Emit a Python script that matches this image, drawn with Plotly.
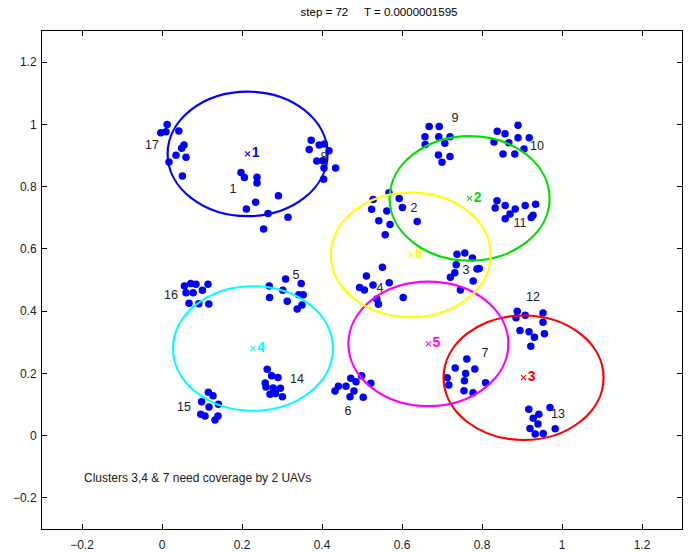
import plotly.graph_objects as go

# ---------- data (data units) ----------
pts_x = [
    # 17
    0.013, -0.003, 0.010, 0.042, 0.055, 0.049, 0.035, 0.060, 0.0175, 0.051,
    # 1
    0.1975, 0.206, 0.2375, 0.2375, 0.291, 0.234, 0.211, 0.265, 0.315, 0.254,
    # 8
    0.373, 0.368, 0.393, 0.406, 0.4175, 0.402, 0.387, 0.434, 0.405, 0.404,
    # 9
    0.668, 0.693, 0.6575, 0.692, 0.720, 0.658, 0.707, 0.691, 0.720, 0.700,
    # 10
    0.890, 0.838, 0.8575, 0.890, 0.918, 0.830, 0.867, 0.905, 0.8525, 0.882,
    # 11
    0.8375, 0.833, 0.858, 0.883, 0.908, 0.934, 0.870, 0.858, 0.9275, 0.923,
    # 2
    0.528, 0.5675, 0.593, 0.524, 0.562, 0.601, 0.542, 0.570, 0.638, 0.558,
    # 3
    0.7375, 0.757, 0.776, 0.7355, 0.7875, 0.793, 0.732, 0.721, 0.778, 0.746,
    # 4
    0.551, 0.511, 0.568, 0.5275, 0.494, 0.506, 0.603, 0.537, 0.541,
    # 5
    0.309, 0.348, 0.268, 0.302, 0.342, 0.353, 0.269, 0.313, 0.350, 0.338,
    # 16
    0.056, 0.072, 0.085, 0.115, 0.060, 0.078, 0.101, 0.0675, 0.092, 0.117,
    # 14
    0.263, 0.274, 0.290, 0.258, 0.260, 0.278, 0.296, 0.270, 0.284, 0.301,
    # 15
    0.116, 0.1275, 0.099, 0.141, 0.1175, 0.097, 0.1075, 0.140, 0.1325,
    # 6
    0.472, 0.499, 0.485, 0.522, 0.441, 0.460, 0.4325, 0.480, 0.470, 0.503,
    # 7
    0.762, 0.733, 0.782, 0.759, 0.713, 0.717, 0.756, 0.809, 0.755, 0.7775,
    # 12
    0.888, 0.885, 0.908, 0.9525, 0.9525, 0.895, 0.9175, 0.956, 0.931, 0.922,
    # 13
    0.917, 0.970, 0.942, 0.928, 0.940, 0.920, 0.983, 0.933, 0.953,
]
pts_y = [
    # 17
    1.000, 0.973, 0.976, 0.979, 0.934, 0.923, 0.901, 0.894, 0.879, 0.834,
    # 1
    0.845, 0.829, 0.830, 0.812, 0.771, 0.750, 0.728, 0.714, 0.702, 0.664,
    # 8
    0.949, 0.919, 0.934, 0.937, 0.915, 0.883, 0.882, 0.860, 0.860, 0.824,
    # 9
    0.993, 0.993, 0.960, 0.960, 0.960, 0.935, 0.939, 0.902, 0.897, 0.878,
    # 10
    0.997, 0.978, 0.970, 0.957, 0.957, 0.943, 0.941, 0.921, 0.905, 0.905,
    # 11
    0.755, 0.731, 0.739, 0.728, 0.739, 0.743, 0.712, 0.697, 0.708, 0.701,
    # 2
    0.759, 0.780, 0.762, 0.727, 0.722, 0.733, 0.690, 0.678, 0.688, 0.645,
    # 3
    0.583, 0.587, 0.571, 0.549, 0.535, 0.537, 0.523, 0.509, 0.497, 0.468,
    # 4
    0.541, 0.513, 0.491, 0.484, 0.476, 0.468, 0.444, 0.439, 0.422,
    # 5
    0.503, 0.489, 0.481, 0.467, 0.453, 0.453, 0.444, 0.432, 0.420, 0.407,
    # 16
    0.481, 0.489, 0.486, 0.486, 0.459, 0.459, 0.467, 0.425, 0.424, 0.423,
    # 14
    0.213, 0.192, 0.187, 0.169, 0.156, 0.153, 0.152, 0.133, 0.135, 0.125,
    # 15
    0.139, 0.128, 0.109, 0.101, 0.092, 0.069, 0.063, 0.063, 0.050,
    # 6
    0.184, 0.192, 0.173, 0.168, 0.159, 0.159, 0.143, 0.143, 0.125, 0.123,
    # 7
    0.246, 0.217, 0.214, 0.200, 0.186, 0.163, 0.176, 0.170, 0.144, 0.138,
    # 12
    0.400, 0.379, 0.387, 0.394, 0.364, 0.338, 0.334, 0.327, 0.316, 0.287,
    # 13
    0.085, 0.090, 0.069, 0.056, 0.037, 0.023, 0.022, 0.005, 0.007,
]

cluster_ids = [str(i) for i in range(1, 18)]
cluster_lx = [0.1775, 0.63, 0.76, 0.545, 0.335, 0.465, 0.8075, 0.405, 0.7325,
              0.9375, 0.895, 0.9275, 0.99, 0.3375, 0.055, 0.0225, -0.025]
cluster_ly = [0.789, 0.728, 0.529, 0.471, 0.513, 0.076, 0.263, 0.892, 1.017,
              0.927, 0.680, 0.442, 0.066, 0.179, 0.089, 0.448, 0.930]

uav_ids = ["1", "2", "3", "4", "5", "6"]
uav_x = [0.214, 0.769, 0.904, 0.2275, 0.666, 0.622]
uav_y = [0.905, 0.762, 0.186, 0.280, 0.295, 0.581]
uav_r = [0.2, 0.2, 0.2, 0.2, 0.2, 0.2]
uav_colors = ["#0000ff", "#00e000", "#ff0000", "#00ffff", "#ff00ff", "#ffff00"]

x_ticks = [-0.2, 0, 0.2, 0.4, 0.6, 0.8, 1, 1.2]
y_ticks = [-0.2, 0, 0.2, 0.4, 0.6, 0.8, 1, 1.2]
title_text = "step = 72\u00a0\u00a0\u00a0\u00a0 T = 0.0000001595"
note_text = "Clusters 3,4 & 7 need coverage by 2 UAVs"

FONT = "Liberation Sans, Arial, Helvetica, sans-serif"

fig = go.Figure()

shapes = []
for cx, cy, r, c in zip(uav_x, uav_y, uav_r, uav_colors):
    shapes.append(dict(type="circle", xref="x", yref="y",
                       x0=cx - r, x1=cx + r, y0=cy - r, y1=cy + r,
                       line=dict(color=c, width=2.2), layer="above"))

fig.add_trace(go.Scatter(x=pts_x, y=pts_y, mode="markers",
                         marker=dict(color="#0000ff", size=7.5, line=dict(width=0)),
                         hoverinfo="skip", showlegend=False))

fig.add_trace(go.Scatter(x=cluster_lx, y=cluster_ly, mode="text",
                         text=cluster_ids, textfont=dict(family=FONT, size=12.5, color="#202020"),
                         hoverinfo="skip", showlegend=False))

for u, cx, cy, c in zip(uav_ids, uav_x, uav_y, uav_colors):
    fig.add_trace(go.Scatter(x=[cx], y=[cy], mode="markers+text",
                             marker=dict(symbol="x-thin", size=5,
                                         line=dict(color=c, width=1.1), color=c),
                             text=["<b>" + u + "</b>"], textposition="middle right",
                             textfont=dict(family=FONT, size=14, color=c),
                             hoverinfo="skip", showlegend=False))

fig.add_annotation(x=-0.2, y=-0.136, xref="x", yref="y", text=note_text,
                   showarrow=False, xanchor="left", yanchor="middle",
                   font=dict(family=FONT, size=12, color="#202020"))

axis_common = dict(showgrid=False, zeroline=False, showline=True, linecolor="black",
                   linewidth=1, mirror="ticks", ticks="inside", ticklen=5,
                   tickcolor="black", tickwidth=1, automargin=False,
                   tickfont=dict(family=FONT, size=12, color="#202020"))

fig.update_layout(
    width=688, height=552,
    margin=dict(l=42, r=6, t=31, b=23, pad=0),
    paper_bgcolor="white", plot_bgcolor="white",
    shapes=shapes,
    title=dict(text=title_text, x=(42 + 337) / 688, xanchor="center",
               y=1 - 12 / 552, yanchor="middle",
               font=dict(family=FONT, size=11.5, color="black")),
    xaxis=dict(range=[-0.3, 1.3], tickvals=x_ticks, ticklabelstandoff=5, **axis_common),
    yaxis=dict(range=[-0.3, 1.3], tickvals=y_ticks, ticklabelstandoff=2, **axis_common),
)

fig.write_html("out.html")
